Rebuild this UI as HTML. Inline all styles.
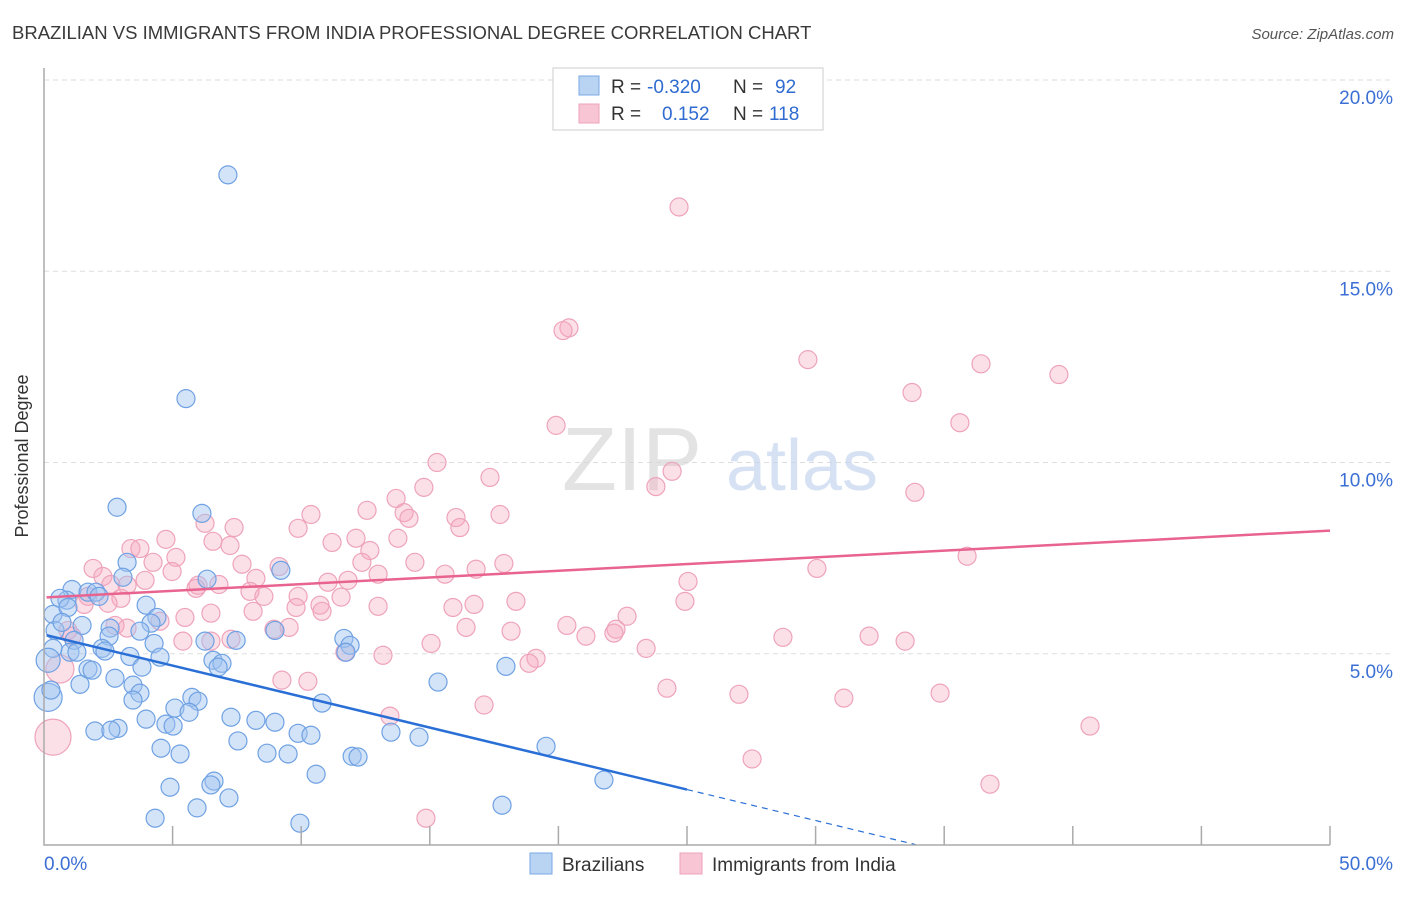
<!DOCTYPE html>
<html><head><meta charset="utf-8"><style>
body{margin:0;background:#fff;font-family:"Liberation Sans",sans-serif;}
svg text{font-family:"Liberation Sans",sans-serif;}
</style></head><body>
<svg id="chart" width="1406" height="892" viewBox="0 0 1406 892" xmlns="http://www.w3.org/2000/svg">
<text x="12" y="39" font-size="18.5" fill="#3a3a3a">BRAZILIAN VS IMMIGRANTS FROM INDIA PROFESSIONAL DEGREE CORRELATION CHART</text>
<text x="1394" y="39" font-size="15" fill="#555" font-style="italic" text-anchor="end">Source: ZipAtlas.com</text>
<text x="28" y="456" font-size="18" fill="#333" text-anchor="middle" transform="rotate(-90 28 456)">Professional Degree</text>
<g id="grid"></g>
<g><text x="632" y="490" font-size="90" fill="#d8d8d8" font-family="Liberation Serif,serif" text-anchor="middle" opacity="0.7">ZIP</text><text x="802" y="490" font-size="72" fill="#c5d6ee" text-anchor="middle" opacity="0.7">atlas</text></g>
<g id="pts"></g>
<g id="lines"></g>
<g id="axes"></g>
<g>
<rect x="553" y="68" width="270" height="62" fill="#fff" stroke="#ccc"/>
<rect x="579" y="76" width="20" height="19" fill="#b9d3f3" stroke="#7aaae6"/>
<rect x="579" y="104" width="20" height="19" fill="#f8c5d5" stroke="#eea3bb"/>
<text x="611" y="93" font-size="19" fill="#333">R = <tspan fill="#2f6bd0" x="647">-0.320</tspan></text>
<text x="733" y="93" font-size="19" fill="#333">N =  <tspan fill="#2f6bd0" x="775">92</tspan></text>
<text x="611" y="120" font-size="19" fill="#333">R =  <tspan fill="#2f6bd0" x="662">0.152</tspan></text>
<text x="733" y="120" font-size="19" fill="#333">N = <tspan fill="#2f6bd0" x="769">118</tspan></text>
</g>
<g>
<rect x="530" y="853" width="22" height="21" fill="#b9d3f3" stroke="#7aaae6"/>
<text x="562" y="871" font-size="19" fill="#333">Brazilians</text>
<rect x="680" y="853" width="22" height="21" fill="#f8c5d5" stroke="#eea3bb"/>
<text x="712" y="871" font-size="19" fill="#333">Immigrants from India</text>
</g>
</svg>
<script>
const yTicks=[5,10,15,20];
const xTickLabels=["0.0%","50.0%"];
const blueX=[7.15,5.52,2.84,6.14,3.23,3.07,6.34,9.21,1.09,1.71,2.02,0.89,0.62,0.35,0.93,3.97,2.14,1.48,0.43,0.70,4.39,4.16,3.73,2.57,1.17,2.53,6.26,7.47,2.26,1.01,1.28,2.37,3.34,4.28,4.51,6.57,6.92,1.71,1.87,3.81,2.76,1.40,3.46,3.73,5.75,5.99,3.46,5.09,5.64,10.81,0.16,0.27,3.97,7.27,8.24,8.98,4.74,5.02,2.88,1.98,2.60,7.54,9.88,10.38,4.55,5.29,8.67,9.49,11.98,12.21,13.49,14.58,19.52,10.58,6.61,6.49,4.90,5.95,7.19,4.32,9.95,17.81,21.77,15.32,17.96,11.66,11.90,11.74,8.98,6.77,0.35,0.16];
const blueY=[17.52,11.67,8.83,8.67,7.39,7.00,6.95,7.18,6.68,6.61,6.61,6.40,6.45,6.03,6.21,6.27,6.50,5.74,5.61,5.82,5.95,5.80,5.59,5.67,5.35,5.46,5.33,5.35,5.14,5.04,5.04,5.07,4.93,5.27,4.91,4.83,4.75,4.60,4.57,4.65,4.36,4.20,4.18,3.97,3.86,3.76,3.79,3.58,3.47,3.71,3.86,4.05,3.29,3.34,3.26,3.21,3.16,3.11,3.05,2.98,3.00,2.72,2.92,2.87,2.53,2.38,2.40,2.38,2.32,2.30,2.95,2.82,2.58,1.85,1.67,1.57,1.51,0.97,1.23,0.70,0.57,1.04,1.70,4.26,4.67,5.40,5.22,5.04,5.61,4.65,5.14,4.83];
const blueR=[9,9,9,9,9,9,9,9,9,9,9,9,9,9,9,9,9,9,9,9,9,9,9,9,9,9,9,9,9,9,9,9,9,9,9,9,9,9,9,9,9,9,9,9,9,9,9,9,9,9,14,9,9,9,9,9,9,9,9,9,9,9,9,9,9,9,9,9,9,9,9,9,9,9,9,9,9,9,9,9,9,9,9,9,9,9,9,9,9,9,9,12];
const pinkX=[24.69,20.41,20.18,29.70,36.43,39.46,33.75,19.91,35.61,15.28,24.42,23.79,17.34,33.86,13.69,14.77,14.00,17.73,16.02,14.19,16.17,10.38,9.88,12.56,4.74,6.26,7.39,6.57,3.38,3.73,7.23,12.13,11.20,13.76,12.67,5.13,1.91,2.29,4.24,7.70,9.14,12.36,14.42,17.88,35.89,30.05,4.98,5.99,6.80,8.24,8.01,3.93,2.60,3.23,1.71,2.99,2.49,1.56,8.55,9.88,11.04,11.82,12.99,15.59,16.80,25.04,5.91,11.55,10.73,12.99,15.90,16.72,18.35,24.92,6.49,8.13,9.80,10.81,4.51,5.48,2.76,1.09,0.93,3.23,5.40,6.49,7.27,8.94,9.53,11.70,13.18,15.05,16.41,18.16,20.33,21.07,22.24,22.16,22.67,23.41,19.13,18.86,28.73,32.08,33.48,9.25,10.26,13.45,17.11,24.22,27.02,31.10,34.84,40.67,27.53,36.78,14.85,0.62,0.35];
const pinkY=[16.68,13.52,13.45,12.69,12.58,12.30,11.83,10.97,11.04,10.00,9.77,9.37,9.61,9.22,9.06,9.35,8.69,8.64,8.56,8.54,8.30,8.64,8.28,8.75,7.99,8.41,8.30,7.94,7.75,7.75,7.83,8.02,7.91,8.02,7.70,7.52,7.23,7.02,7.39,7.34,7.28,7.39,7.39,7.36,7.55,7.23,7.15,6.79,6.81,6.97,6.63,6.92,6.81,6.79,6.50,6.45,6.32,6.29,6.50,6.50,6.87,6.92,7.08,7.08,7.21,6.89,6.71,6.48,6.27,6.24,6.21,6.29,6.37,6.37,6.06,6.11,6.21,6.11,5.85,5.95,5.74,5.46,5.61,5.67,5.33,5.33,5.38,5.64,5.69,5.04,4.96,5.27,5.69,5.59,5.74,5.46,5.64,5.54,5.98,5.14,4.88,4.75,5.43,5.46,5.33,4.31,4.28,3.37,3.66,4.10,3.94,3.84,3.97,3.11,2.25,1.59,0.70,4.60,2.82];
const blueTrend=[5.5,-0.162]; const blueSolidEnd=25; const blueDashEnd=33.9;
const pinkTrend=[6.47,0.035];
const X0=44,X1=1330,Y0=845,Y20=80;
function sx(v){return X0+(X1-X0)*v/50;}
function sy(v){return Y0-(Y0-Y20)*v/20;}
const NS="http://www.w3.org/2000/svg";
function mk(t,a,p){const e=document.createElementNS(NS,t);for(const k in a)e.setAttribute(k,a[k]);p.appendChild(e);return e;}
const grid=document.getElementById('grid'),axes=document.getElementById('axes'),pts=document.getElementById('pts'),lines=document.getElementById('lines');
yTicks.forEach(t=>{
 const l=mk('line',{x1:X0,x2:1393,y1:sy(t),y2:sy(t),stroke:'#ddd','stroke-dasharray':'5,4'},grid);
 
 
 const tx=mk('text',{x:1393,y:sy(t)+24,'font-size':19,fill:'#3b6fd4','text-anchor':'end'},axes);
 tx.textContent=t.toFixed(1)+'%';
 
 
});
const ax=mk('path',{d:`M${X0},68 V${Y0} H${X1}`,fill:'none',stroke:'#aaa','stroke-width':1.5},axes);


for(let v=5;v<=50;v+=5){
 const tk=mk('line',{x1:sx(v),x2:sx(v),y1:826,y2:Y0,stroke:'#aaa','stroke-width':1.5},axes);
 
 
}
const xl0=mk('text',{x:44,y:870,'font-size':19,fill:'#3b6fd4'},axes);xl0.textContent=xTickLabels[0];


const xl1=mk('text',{x:1393,y:870,'font-size':19,fill:'#3b6fd4','text-anchor':'end'},axes);xl1.textContent=xTickLabels[1];


pinkX.forEach((x,i)=>{
 const r=i>=pinkX.length-2?(i==pinkX.length-1?18:14):9;
 const c=mk('circle',{cx:sx(x),cy:sy(pinkY[i]),r:r,fill:'rgba(245,165,190,0.35)',stroke:'#eea3bb','stroke-width':1.2},pts);
 
 
});
blueX.forEach((x,i)=>{
 const c=mk('circle',{cx:sx(x),cy:sy(blueY[i]),r:blueR[i],fill:'rgba(160,196,240,0.45)',stroke:'#6fa1e3','stroke-width':1.2},pts);
 
 
});
const bf=v=>blueTrend[0]+blueTrend[1]*v, pf=v=>pinkTrend[0]+pinkTrend[1]*v;
const pl=mk('line',{x1:sx(0.1),y1:sy(pf(0.1)),x2:sx(50),y2:sy(pf(50)),stroke:'#e8638f','stroke-width':2.5},lines);


const bl=mk('line',{x1:sx(0.1),y1:sy(bf(0.1)),x2:sx(blueSolidEnd),y2:sy(bf(blueSolidEnd)),stroke:'#2a6fd6','stroke-width':2.5},lines);


const bd=mk('line',{x1:sx(blueSolidEnd),y1:sy(bf(blueSolidEnd)),x2:sx(blueDashEnd),y2:sy(Math.max(0,bf(blueDashEnd))),stroke:'#2a6fd6','stroke-width':1.2,'stroke-dasharray':'6,5'},lines);


</script>
</body></html>
